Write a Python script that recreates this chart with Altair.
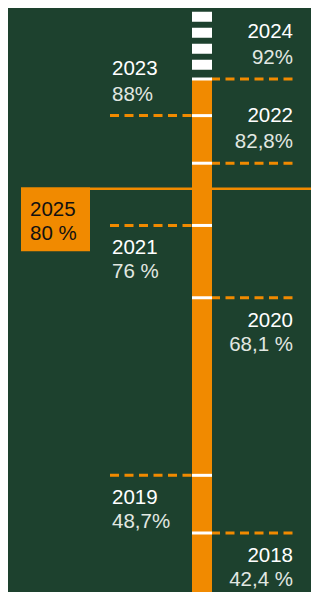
import altair as alt
import pandas as pd

# ---- data ----
years = ["2018", "2019", "2020", "2021", "2022", "2023", "2024"]
values = [42.4, 48.7, 68.1, 76.0, 82.8, 88.0, 92.0]
labels = ["42,4 %", "48,7%", "68,1 %", "76 %", "82,8%", "88%", "92%"]
target_year = ["2025"]
target_value = [80.0]
target_label = ["80 %"]
full_value = [100.0]

# ---- styling ----
BG = "#1d412e"
ORANGE = "#f18a00"
PCT = "#e2e8e2"
FONT = "Liberation Sans"
FS = 20.5
W, H = 303, 584
BAR_X = 194
ys = alt.Scale(domain=[35.954, 99.757], nice=False, zero=False)

df = pd.DataFrame({"year": years, "v": values, "label": labels})
df["rank"] = df["v"].rank(ascending=False).astype(int) - 1
df["side"] = ["right" if r % 2 == 0 else "left" for r in df["rank"]]
df["pos"] = ["above" if v > target_value[0] else "below" for v in df["v"]]

tdf = pd.DataFrame({"year": target_year, "v": target_value, "label": target_label})
bdf = pd.DataFrame({"top": [max(values)], "cap": full_value})

Y = lambda f: alt.Y(f"{f}:Q", scale=ys, axis=None)

bar = alt.Chart(bdf).mark_rule(color=ORANGE, strokeWidth=20, strokeCap="butt").encode(
    x=alt.value(BAR_X), y=Y("top"), y2=alt.value(H))
cap = alt.Chart(bdf).mark_rule(color="white", strokeWidth=20, strokeCap="butt",
                               strokeDash=[0, 6, 10, 6, 10, 6, 10, 6, 10, 300]).encode(
    x=alt.value(BAR_X), y=Y("cap"), y2="top:Q")

tline = alt.Chart(tdf).mark_rule(color=ORANGE, strokeWidth=2.5).encode(
    x=alt.value(82), x2=alt.value(W), y=Y("v"))
tbox = alt.Chart(tdf).mark_rect(color=ORANGE, yOffset=-1.5, y2Offset=62.5).encode(
    x=alt.value(13), x2=alt.value(82), y=Y("v"), y2="v:Q")
tyear = alt.Chart(tdf).mark_text(align="left", baseline="alphabetic", dy=27, font=FONT,
                                 fontSize=FS, color="#111111").encode(
    x=alt.value(22), y=Y("v"), text="year:N")
tpct = alt.Chart(tdf).mark_text(align="left", baseline="alphabetic", dy=51.5, font=FONT,
                                fontSize=FS, color="#111111").encode(
    x=alt.value(22), y=Y("v"), text="label:N")

base = alt.Chart(df)
dash_r = base.transform_filter(alt.datum.side == "right").mark_rule(
    color=ORANGE, strokeWidth=3, strokeDash=[9, 5.5]).encode(
    x=alt.value(203), x2=alt.value(285), y=Y("v"))
dash_l = base.transform_filter(alt.datum.side == "left").mark_rule(
    color=ORANGE, strokeWidth=3, strokeDash=[9, 5.5]).encode(
    x=alt.value(102), x2=alt.value(184), y=Y("v"))
ticks = base.mark_rule(color="white", strokeWidth=3).encode(
    x=alt.value(184), x2=alt.value(204), y=Y("v"))

layers = [bar, cap, tline, tbox, tyear, tpct, dash_r, dash_l, ticks]
for side, xpos, align in [("right", 285, "right"), ("left", 104, "left")]:
    for pos, dy_year, dy_pct in [("above", -41, -15), ("below", 29, 53)]:
        sub = base.transform_filter(
            (alt.datum.side == side) & (alt.datum.pos == pos))
        layers.append(sub.mark_text(align=align, baseline="alphabetic", dy=dy_year,
                                    font=FONT, fontSize=FS,
                                    color="white").encode(
            x=alt.value(xpos), y=Y("v"), text="year:N"))
        layers.append(sub.mark_text(align=align, baseline="alphabetic", dy=dy_pct,
                                    font=FONT, fontSize=FS, color=PCT).encode(
            x=alt.value(xpos), y=Y("v"), text="label:N"))

chart = alt.layer(*layers).properties(
    width=W, height=H, background=BG, padding=0,
    autosize=alt.AutoSizeParams(type="none"),
).configure_view(stroke=None)

chart.save("out.html", embed_options={"renderer": "svg", "actions": False})
